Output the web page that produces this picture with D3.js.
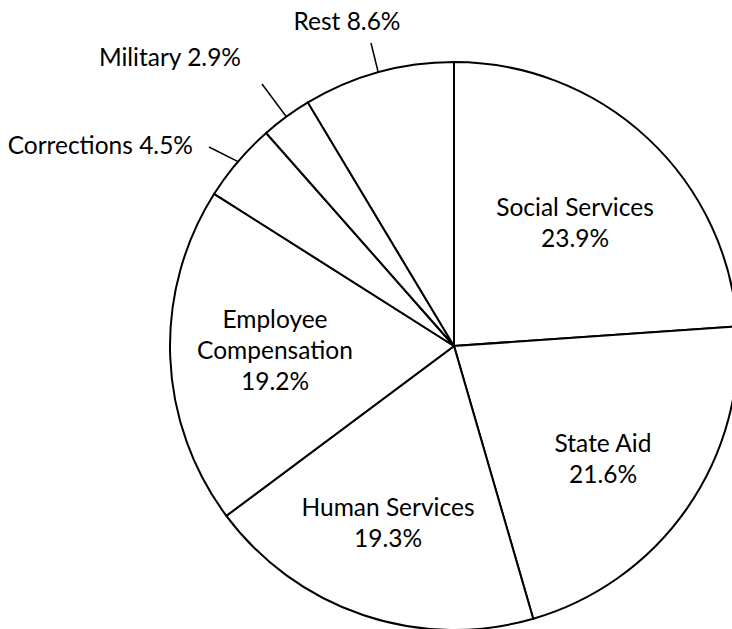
<!DOCTYPE html>
<html>
<head>
<meta charset="utf-8">
<script src="https://cdn.jsdelivr.net/npm/d3@7"></script>
<style>
  html, body { margin: 0; padding: 0; background: #fff; }
  svg { display: block; }
  text { font-family: Lato, "Open Sans", sans-serif; fill: #000; }
</style>
</head>
<body>
<svg id="chart" width="732" height="629"></svg>
<script>
// Budget shares by category (percent), clockwise from 12 o'clock
const categories = ["Social Services", "State Aid", "Human Services", "Employee Compensation", "Corrections", "Military", "Rest"];
const shares = [23.9, 21.6, 19.3, 19.2, 4.5, 2.9, 8.6];
// How each category name breaks over lines in its label
const nameLines = [["Social Services"], ["State Aid"], ["Human Services"], ["Employee", "Compensation"], ["Corrections"], ["Military"], ["Rest"]];

// Layout
const W = 732, H = 629;
const cx = 454, cy = 346, R = 284;
const fontSize = 24.5, lineGap = 31;

// Label placement: inside labels are centred blocks (x, first baseline);
// outside labels sit on one line with a leader to the slice edge.
const insideLabel = {
  "Social Services":       { x: 575, y: 216 },
  "State Aid":             { x: 603, y: 452 },
  "Human Services":        { x: 388, y: 516 },
  "Employee Compensation": { x: 275, y: 328 }
};
const outsideLabel = {
  "Rest":        { x: 347, y: 30,  anchor: "middle", lead: [371, 43] },
  "Military":    { x: 241, y: 66,  anchor: "end",    lead: [262, 84] },
  "Corrections": { x: 193, y: 154, anchor: "end",    lead: [209, 147] }
};

const svg = d3.select("#chart");
const g = svg.append("g").attr("transform", `translate(${cx},${cy})`);

const data = categories.map((c, i) => ({ name: c, value: shares[i], lines: nameLines[i] }));
const pie = d3.pie().sort(null).value(d => d.value).startAngle(0).endAngle(2 * Math.PI);
const arcs = pie(data);
const arc = d3.arc().innerRadius(0).outerRadius(R);
const edgeArc = d3.arc().innerRadius(R).outerRadius(R);

g.selectAll("path.slice")
  .data(arcs)
  .join("path")
  .attr("class", "slice")
  .attr("d", arc)
  .attr("fill", "#fff")
  .attr("stroke", "#000")
  .attr("stroke-width", 2)
  .attr("stroke-linejoin", "miter");

const fmt = v => v.toFixed(1) + "%";

// Labels inside the larger slices
arcs.filter(a => insideLabel[a.data.name]).forEach(a => {
  const p = insideLabel[a.data.name];
  const lines = a.data.lines.concat([fmt(a.data.value)]);
  const t = svg.append("text")
    .attr("text-anchor", "middle")
    .attr("font-size", fontSize);
  lines.forEach((s, i) => {
    t.append("tspan").attr("x", p.x).attr("y", p.y + i * lineGap).text(s);
  });
});

// Labels outside the thin slices, with leader lines from the slice edge
arcs.filter(a => outsideLabel[a.data.name]).forEach(a => {
  const p = outsideLabel[a.data.name];
  const [ex, ey] = edgeArc.centroid(a);
  svg.append("line")
    .attr("x1", cx + ex).attr("y1", cy + ey)
    .attr("x2", p.lead[0]).attr("y2", p.lead[1])
    .attr("stroke", "#000")
    .attr("stroke-width", 1.5);
  svg.append("text")
    .attr("x", p.x).attr("y", p.y)
    .attr("text-anchor", p.anchor)
    .attr("font-size", fontSize)
    .text(a.data.name + " " + fmt(a.data.value));
});
</script>
</body>
</html>
